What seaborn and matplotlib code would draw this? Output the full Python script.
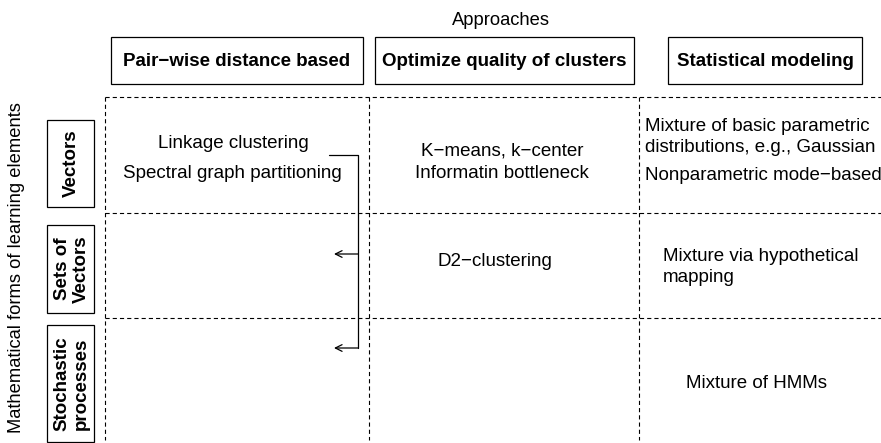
import matplotlib
matplotlib.use("Agg")
import matplotlib.pyplot as plt
import seaborn as sns
import pandas as pd
from matplotlib.patches import Rectangle

# diagram content
approaches = ["Pair\u2212wise distance based", "Optimize quality of clusters", "Statistical modeling"]
forms = ["Vectors", "Sets of\nVectors", "Stochastic\nprocesses"]
cells = {
    (0, 0): ["Linkage clustering", "Spectral graph partitioning"],
    (0, 1): ["K\u2212means, k\u2212center", "Informatin bottleneck"],
    (0, 2): ["Mixture of basic parametric\ndistributions, e.g., Gaussian", "Nonparametric mode\u2212based"],
    (1, 1): ["D2\u2212clustering"],
    (1, 2): ["Mixture via hypothetical\nmapping"],
    (2, 2): ["Mixture of HMMs"],
}
top_label = "Approaches"
side_label = "Mathematical forms of learning elements"

# layout in pixels
col_edges = [105, 369, 639, 881]
row_edges = [97, 213, 318, 440]
head_boxes = [(111, 363), (375, 634), (668, 862)]
head_y = (37, 84)
row_boxes = [(120, 207), (225, 313), (325, 442)]
row_box_x = (47, 94)

sns.set_theme(style="white")
plt.rcParams["font.family"] = ["Liberation Sans", "DejaVu Sans"]
plt.rcParams["lines.scale_dashes"] = False
plt.rcParams["text.color"] = "black"

fig = plt.figure(figsize=(8.81, 4.43), dpi=100)
ax = fig.add_axes([0, 0, 1, 1])
ax.set_xlim(0, 881)
ax.set_ylim(443, 0)
ax.axis("off")

dash = dict(color="black", lw=0.8, linestyle=(0, (3, 2.2)))
for y in row_edges[:3]:
    ax.plot([col_edges[0], col_edges[-1]], [y, y], **dash)
for x in col_edges[:3]:
    ax.plot([x, x], [row_edges[0], row_edges[-1]], **dash)

fs = 13.5
ax.text(501, 20, top_label, ha="center", va="center", fontsize=fs - 0.3)
ax.text(17, 268, side_label, ha="center", va="center", rotation=90, fontsize=fs - 0.3)

for (x0, x1), name in zip(head_boxes, approaches):
    ax.add_patch(Rectangle((x0, head_y[0]), x1 - x0, head_y[1] - head_y[0],
                           fill=False, ec="black", lw=0.9))
    ax.text((x0 + x1) / 2, sum(head_y) / 2 + 1, name, ha="center", va="center",
            fontsize=fs, fontweight="bold")

for (y0, y1), name in zip(row_boxes, forms):
    x0, x1 = row_box_x
    ax.add_patch(Rectangle((x0, y0), x1 - x0, y1 - y0, fill=False, ec="black", lw=0.9))
    ax.text((x0 + x1) / 2 + 1, (y0 + y1) / 2, name, ha="center", va="center",
            rotation=90, fontsize=fs, fontweight="bold", linespacing=1.15)

# cell text positions
pos = {
    (0, 0): [(233, 144, "center"), (232, 173, "center")],
    (0, 1): [(502, 151, "center"), (502, 173, "center")],
    (0, 2): [(645, 137, "left"), (645, 175, "left")],
    (1, 1): [(495, 261, "center")],
    (1, 2): [(663, 267, "left")],
    (2, 2): [(757, 384, "center")],
}
for key, texts in cells.items():
    for (x, y, ha), t in zip(pos[key], texts):
        ax.text(x, y, t, ha=ha, va="center", fontsize=fs, linespacing=1.3)

# bracket with arrows
bracket = pd.DataFrame({"x": [329, 358, 358], "y": [155, 155, 348]})
sns.lineplot(data=bracket, x="x", y="y", sort=False, estimator=None,
             color="black", lw=0.9, ax=ax)
for y in [254, 348]:
    ax.annotate("", xy=(334, y), xytext=(358, y),
                arrowprops=dict(arrowstyle="->", color="black", lw=0.9,
                                shrinkA=0, shrinkB=0))

fig.savefig("out.png", dpi=100)
